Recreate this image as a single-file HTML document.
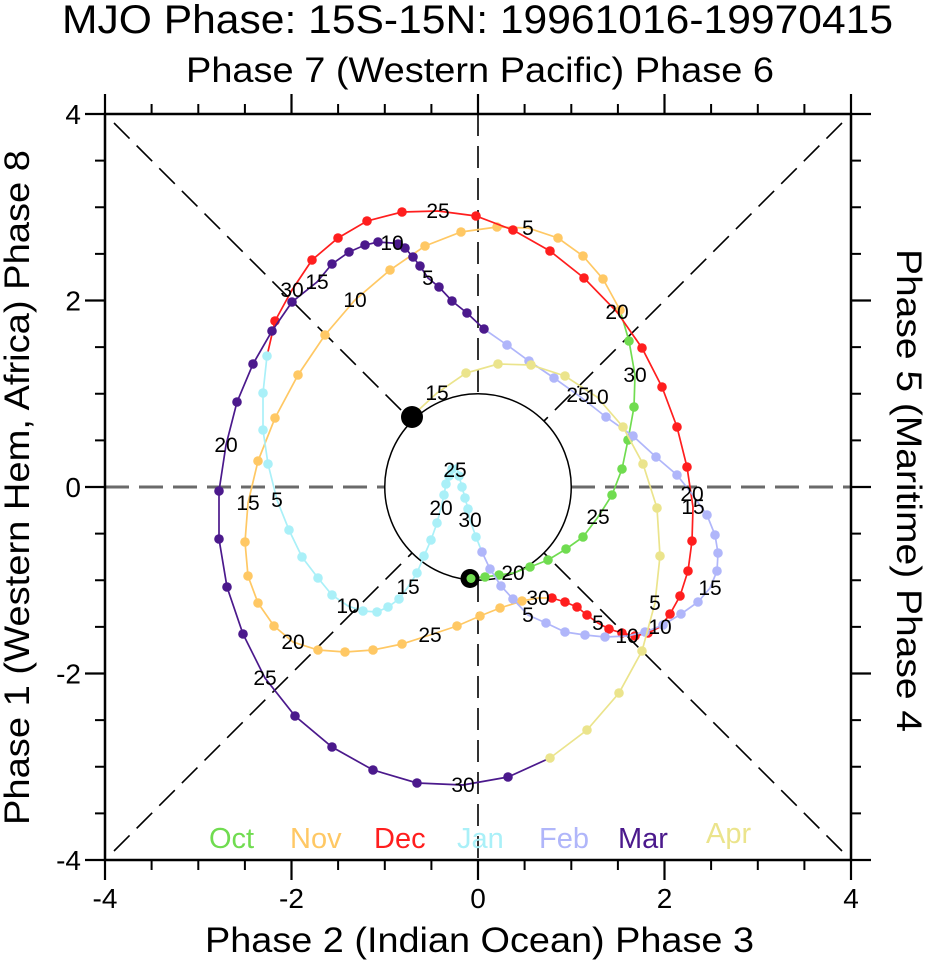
<!DOCTYPE html>
<html><head><meta charset="utf-8">
<style>
html,body{margin:0;padding:0;background:#fff;}
svg{display:block;}
text{font-family:"Liberation Sans",Arial,Helvetica,sans-serif;fill:#000;}
</style></head>
<body>
<svg width="926" height="964" viewBox="0 0 926 964" xmlns="http://www.w3.org/2000/svg">
<defs>
 <marker id="mOct" markerUnits="userSpaceOnUse" markerWidth="12" markerHeight="12" refX="6" refY="6"><circle cx="6" cy="6" r="4.8" fill="#70dc50"/></marker>
 <marker id="mNov" markerUnits="userSpaceOnUse" markerWidth="12" markerHeight="12" refX="6" refY="6"><circle cx="6" cy="6" r="4.8" fill="#ffc864"/></marker>
 <marker id="mDec" markerUnits="userSpaceOnUse" markerWidth="12" markerHeight="12" refX="6" refY="6"><circle cx="6" cy="6" r="4.8" fill="#ff1e1e"/></marker>
 <marker id="mJan" markerUnits="userSpaceOnUse" markerWidth="12" markerHeight="12" refX="6" refY="6"><circle cx="6" cy="6" r="4.8" fill="#aaf0f8"/></marker>
 <marker id="mFeb" markerUnits="userSpaceOnUse" markerWidth="12" markerHeight="12" refX="6" refY="6"><circle cx="6" cy="6" r="4.8" fill="#b0b6fa"/></marker>
 <marker id="mMar" markerUnits="userSpaceOnUse" markerWidth="12" markerHeight="12" refX="6" refY="6"><circle cx="6" cy="6" r="4.8" fill="#4b198c"/></marker>
 <marker id="mApr" markerUnits="userSpaceOnUse" markerWidth="12" markerHeight="12" refX="6" refY="6"><circle cx="6" cy="6" r="4.8" fill="#ebe48c"/></marker>
</defs>
<rect width="926" height="964" fill="#fff"/>

<!-- Titles -->
<text x="62" y="33" font-size="40" textLength="831" lengthAdjust="spacingAndGlyphs">MJO Phase: 15S-15N: 19961016-19970415</text>
<text x="186" y="82" font-size="35" textLength="588" lengthAdjust="spacingAndGlyphs">Phase 7 (Western Pacific) Phase 6</text>
<text x="205" y="952" font-size="35" textLength="549" lengthAdjust="spacingAndGlyphs">Phase 2 (Indian Ocean) Phase 3</text>
<text transform="translate(29,825) rotate(-90)" x="0" y="0" font-size="35" textLength="675" lengthAdjust="spacingAndGlyphs">Phase 1 (Western Hem, Africa) Phase 8</text>
<text transform="translate(897,249) rotate(90)" x="0" y="0" font-size="35" textLength="483" lengthAdjust="spacingAndGlyphs">Phase 5 (Maritime) Phase 4</text>

<!-- Tick labels -->
<g font-size="28" text-anchor="middle">
 <text x="105" y="908">-4</text>
 <text x="291.5" y="908">-2</text>
 <text x="478" y="908">0</text>
 <text x="664.5" y="908">2</text>
 <text x="851" y="908">4</text>
</g>
<g font-size="28" text-anchor="end">
 <text x="81" y="124">4</text>
 <text x="81" y="310.5">2</text>
 <text x="81" y="497">0</text>
 <text x="81" y="683.5">-2</text>
 <text x="81" y="870">-4</text>
</g>

<!-- Reference dashed lines -->
<g stroke="#6a6a6a" stroke-width="3" stroke-dasharray="24 10" fill="none">
 <line x1="105" y1="487" x2="385" y2="487"/>
 <line x1="571" y1="487" x2="851" y2="487"/>
</g>
<g stroke="#000" stroke-width="1.6" stroke-dasharray="22 10" fill="none">
 <line x1="114" y1="123" x2="412" y2="421"/>
 <line x1="842" y1="123" x2="544" y2="421"/>
 <line x1="114" y1="851" x2="412" y2="553"/>
 <line x1="842" y1="851" x2="544" y2="553"/>
 <line x1="478" y1="114" x2="478" y2="394"/>
 <line x1="478" y1="580" x2="478" y2="860"/>
</g>
<circle cx="478" cy="487" r="93.25" fill="none" stroke="#000" stroke-width="1.5"/>

<!-- Axes frame and ticks -->
<g stroke="#000" fill="none">
 <rect x="105" y="114" width="746" height="746" stroke-width="2.5"/>
 <path stroke-width="2.2" d="M105 114V94M291.5 114V94M478 114V94M664.5 114V94M851 114V94
 M105 860V880M291.5 860V880M478 860V880M664.5 860V880M851 860V880
 M105 114H85M105 300.5H85M105 487H85M105 673.5H85M105 860H85
 M851 114H871M851 300.5H871M851 487H871M851 673.5H871M851 860H871"/>
 <path stroke-width="2" d="M151.6 114V104M198.3 114V104M244.9 114V104M338.1 114V104M384.8 114V104M431.4 114V104M524.6 114V104M571.3 114V104M617.9 114V104M711.1 114V104M757.8 114V104M804.4 114V104
 M151.6 860V870M198.3 860V870M244.9 860V870M338.1 860V870M384.8 860V870M431.4 860V870M524.6 860V870M571.3 860V870M617.9 860V870M711.1 860V870M757.8 860V870M804.4 860V870
 M105 160.6H95M105 207.3H95M105 253.9H95M105 347.1H95M105 393.8H95M105 440.4H95M105 533.6H95M105 580.3H95M105 626.9H95M105 720.1H95M105 766.8H95M105 813.4H95
 M851 160.6H861M851 207.3H861M851 253.9H861M851 347.1H861M851 393.8H861M851 440.4H861M851 533.6H861M851 580.3H861M851 626.9H861M851 720.1H861M851 766.8H861M851 813.4H861"/>
</g>

<!-- October -->
<polyline fill="none" stroke="#70dc50" stroke-width="1.7" points="470,578 485,577 499,575 513,573 530,567 548,560 566,549 583,537 598,517 612,495 622,469 628,440 634,407 635,375 629,341 620,310"/>
<polyline fill="none" stroke="none" marker-start="url(#mOct)" marker-mid="url(#mOct)" marker-end="url(#mOct)" points="485,577 499,575 530,567 548,560 566,549 583,537 612,495 622,469 628,440 634,407 629,341"/>

<!-- November -->
<polyline fill="none" stroke="#ffc864" stroke-width="1.7" points="620,310 603,279 583,256 558,238 528,228 497,227 461,232 425,246 390,270 355,300 325,335 298,375 275,418 258,461 248,503 245,542 248,576 258,603 274,626 293,642 318,650 345,652 373,650 402,644 430,635 457,626 480,616 500,608 522,601 538,598 552,598"/>
<polyline fill="none" stroke="none" marker-start="url(#mNov)" marker-mid="url(#mNov)" marker-end="url(#mNov)" points="620,310 603,279 583,256 558,238 497,227 461,232 425,246 390,270 325,335 298,375 275,418 258,461 245,542 248,576 258,603 274,626 318,650 345,652 373,650 402,644 457,626 480,616 500,608 522,601"/>

<!-- December -->
<polyline fill="none" stroke="#ff1e1e" stroke-width="1.7" points="552,598 565,602 577,607 587,615 598,623 609,629 622,633 635,636 648,633 660,627 670,614 680,596 688,571 692,541 693,507 687,467 677,427 662,387 642,348 617,312 584,278 550,251 513,230 476,216 438,211 402,212 367,221 338,238 312,260 292,290 275,321 267,356"/>
<polyline fill="none" stroke="none" marker-start="url(#mDec)" marker-mid="url(#mDec)" marker-end="url(#mDec)" points="552,598 565,602 577,607 587,615 609,629 622,633 635,636 648,633 670,614 680,596 688,571 692,541 687,467 677,427 662,387 642,348 584,278 550,251 513,230 476,216 402,212 367,221 338,238 312,260 275,321"/>

<!-- January -->
<polyline fill="none" stroke="#aaf0f8" stroke-width="1.7" points="267,356 263,393 263,430 268,464 277,500 289,530 302,557 318,578 332,595 348,606 363,611 377,612 388,607 399,599 408,587 417,573 424,556 431,540 437,523 441,508 444,495 446,484 449,476 452,469 456,465 459,476 462,487 465,498 468,509 470,520 476,537 482,552"/>
<polyline fill="none" stroke="none" marker-start="url(#mJan)" marker-mid="url(#mJan)" marker-end="url(#mJan)" points="267,356 263,393 263,430 268,464 289,530 302,557 318,578 332,595 363,611 377,612 388,607 399,599 417,573 424,556 431,540 437,523 444,495 446,484 449,476 452,469 459,476 462,487 465,498 468,509 476,537"/>

<!-- February -->
<polyline fill="none" stroke="#b0b6fa" stroke-width="1.7" points="482,552 490,569 501,586 513,599 528,615 546,623 565,632 585,635 605,637 627,636 645,632 663,625 681,614 698,602 710,588 717,571 718,553 715,535 707,515 692,494 677,475 656,457 633,436 606,417 578,395 554,378 529,361 507,345 484,329"/>
<polyline fill="none" stroke="none" marker-start="url(#mFeb)" marker-mid="url(#mFeb)" marker-end="url(#mFeb)" points="482,552 490,569 501,586 513,599 546,623 565,632 585,635 605,637 645,632 663,625 681,614 698,602 717,571 718,553 715,535 707,515 677,475 656,457 633,436 606,417 554,378 529,361 507,345"/>

<!-- March -->
<polyline fill="none" stroke="#4b198c" stroke-width="1.7" points="484,329 467,313 452,301 439,287 428,278 420,266 413,257 405,248 398,244 392,243 378,242 365,245 349,252 332,264 317,282 292,302 272,331 253,364 237,402 226,445 219,491 219,539 227,587 243,634 265,678 295,716 332,747 373,770 417,783 463,785 508,777 550,758"/>
<polyline fill="none" stroke="none" marker-start="url(#mMar)" marker-mid="url(#mMar)" marker-end="url(#mMar)" points="484,329 467,313 452,301 439,287 420,266 413,257 405,248 398,244 378,242 365,245 349,252 332,264 292,302 272,331 253,364 237,402 219,491 219,539 227,587 243,634 295,716 332,747 373,770 417,783 508,777"/>

<!-- April -->
<polyline fill="none" stroke="#ebe48c" stroke-width="1.7" points="550,758 587,730 619,693 642,651 655,603 660,556 657,508 643,464 623,427 597,397 565,376 531,365 498,364 466,373 437,393 412,416"/>
<polyline fill="none" stroke="none" marker-start="url(#mApr)" marker-mid="url(#mApr)" marker-end="url(#mApr)" points="550,758 587,730 619,693 642,651 660,556 657,508 643,464 623,427 565,376 531,365 498,364 466,373"/>

<!-- Day labels -->
<g font-size="21" text-anchor="middle">
 <text x="513" y="580">20</text><text x="598" y="524">25</text><text x="635" y="382">30</text>
 <text x="528" y="235">5</text><text x="355" y="307">10</text><text x="248" y="510">15</text><text x="293" y="649">20</text><text x="430" y="642">25</text><text x="538" y="605">30</text>
 <text x="598" y="630">5</text><text x="660" y="634">10</text><text x="693" y="514">15</text><text x="617" y="319">20</text><text x="438" y="218">25</text><text x="292" y="297">30</text>
 <text x="277" y="507">5</text><text x="348" y="613">10</text><text x="408" y="594">15</text><text x="441" y="515">20</text><text x="455" y="477">25</text><text x="470" y="527">30</text>
 <text x="528" y="622">5</text><text x="627" y="643">10</text><text x="710" y="595">15</text><text x="692" y="501">20</text><text x="578" y="402">25</text>
 <text x="428" y="285">5</text><text x="392" y="250">10</text><text x="317" y="289">15</text><text x="226" y="452">20</text><text x="265" y="685">25</text><text x="463" y="792">30</text>
 <text x="655" y="610">5</text><text x="597" y="404">10</text><text x="437" y="400">15</text>
</g>

<!-- Start / end markers -->
<circle cx="470" cy="578.5" r="9.5" fill="#000"/>
<circle cx="471" cy="578.5" r="4.5" fill="#70dc50"/>
<circle cx="412" cy="417" r="11" fill="#000"/>

<!-- Legend -->
<g font-size="29">
 <text x="209" y="848" style="fill:#70dc50">Oct</text>
 <text x="290" y="848" style="fill:#ffc864">Nov</text>
 <text x="374" y="848" style="fill:#ff1e1e">Dec</text>
 <text x="457" y="848" style="fill:#aaf0f8">Jan</text>
 <text x="539" y="848" style="fill:#b0b6fa">Feb</text>
 <text x="618" y="848" style="fill:#4b198c">Mar</text>
 <text x="706" y="843" style="fill:#ebe48c">Apr</text>
</g>
</svg>
</body></html>
